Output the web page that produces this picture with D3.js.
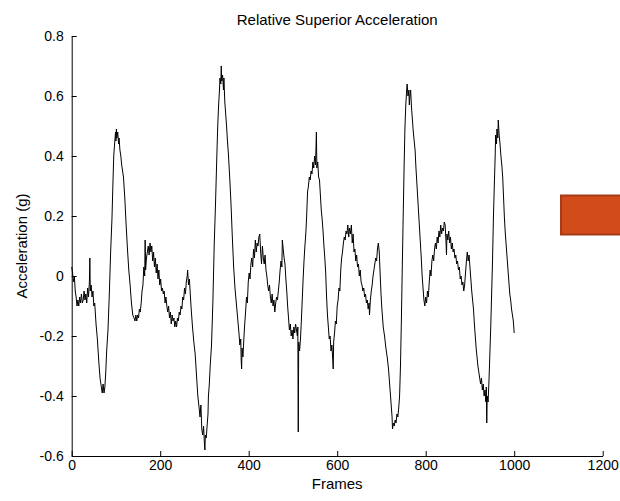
<!DOCTYPE html>
<html>
<head>
<meta charset="utf-8">
<script src="https://cdn.jsdelivr.net/npm/d3@7"></script>
<style>
  body { margin: 0; background: #fff; }
  text { font-family: "Liberation Sans", Arial, sans-serif; fill: #000; }
</style>
</head>
<body>
<div id="cont"></div>
<script>

    // frames
    var frames = [
      0,2,4,6,8,10,12,14,16,18,20,22,24,26,28,30,32,34,36,38,40,41,42,44,46,48,50,52,55,58,
      61,64,67,69,71,73,75,77,79,82,85,88,91,93,95,97,99,100,101,102,104,106,107,109,111,113,115,117,120,123,
      126,129,132,135,138,141,143,145,147,149,151,153,155,157,159,161,163,165,166,167,169,171,173,175,177,179,181,183,185,187,
      189,191,193,195,197,199,201,203,205,207,209,211,213,215,217,219,221,223,225,227,229,231,233,235,237,239,241,243,245,247,
      249,251,253,255,257,259,261,262,264,266,268,270,273,276,279,282,285,288,290,292,294,296,298,300,301,302,304,306,308,309,
      311,313,316,319,322,325,328,330,332,334,335,337,338,339,341,343,344,346,348,350,352,354,357,360,363,366,369,372,375,378,
      380,382,383,384,385,387,389,391,393,395,397,399,401,403,405,407,409,411,413,415,417,419,421,423,425,427,429,431,433,435,
      437,439,441,443,445,447,449,451,453,455,457,459,461,463,465,467,469,471,473,475,476,478,480,482,484,486,488,490,492,494,
      496,498,500,502,504,506,508,510,511,512,513,515,517,519,521,523,525,527,529,531,533,535,537,539,541,543,545,547,549,551,
      553,554,556,558,560,562,564,566,568,570,572,574,576,578,580,582,584,586,588,590,591,592,594,596,598,600,602,604,606,608,
      610,612,614,616,618,620,622,624,626,628,630,632,634,636,638,640,642,644,646,648,650,652,654,656,658,660,662,664,666,668,
      670,672,673,675,677,679,681,683,685,687,689,691,693,695,697,699,701,704,707,710,713,716,718,720,722,724,725,727,729,731,
      733,735,737,739,741,743,745,747,749,751,753,755,757,758,760,762,763,765,766,768,770,772,774,776,778,780,782,784,786,788,
      790,792,794,796,798,800,802,804,806,808,810,812,814,816,818,820,822,824,826,828,830,832,834,836,838,840,842,844,846,847,
      848,850,852,854,856,858,860,862,864,866,868,870,872,874,876,878,880,882,884,886,888,890,892,894,896,898,900,902,904,906,
      908,910,912,914,916,918,920,922,924,926,928,930,932,934,936,937,938,939,941,943,945,947,949,951,953,955,957,958,960,961,
      963,964,966,968,970,972,974,976,978,980,982,984,986,988,990,992,994,996,998,1000
    ];

    // acceleration (g), one per frame above
    var accel = [
      0.03,0.01,-0.02,0.00,-0.05,-0.07,-0.10,-0.08,-0.10,-0.07,-0.09,-0.06,-0.09,-0.08,-0.05,-0.08,-0.06,-0.09,-0.04,-0.07,-0.02,0.06,-0.05,-0.03,-0.07,-0.05,-0.10,-0.09,-0.16,-0.21,
      -0.28,-0.34,-0.37,-0.39,-0.36,-0.39,-0.37,-0.32,-0.25,-0.18,-0.06,0.08,0.19,0.30,0.40,0.44,0.48,0.45,0.49,0.46,0.48,0.44,0.46,0.42,0.40,0.37,0.35,0.33,0.26,0.17,
      0.09,0.02,-0.03,-0.09,-0.13,-0.14,-0.15,-0.13,-0.15,-0.13,-0.14,-0.11,-0.12,-0.09,-0.05,-0.03,0.03,0.00,0.12,0.02,0.06,0.08,0.10,0.07,0.11,0.08,0.10,0.05,0.08,0.03,
      0.06,0.01,0.04,-0.01,0.02,-0.03,-0.01,-0.05,-0.04,-0.06,-0.05,-0.09,-0.07,-0.10,-0.12,-0.10,-0.14,-0.12,-0.16,-0.13,-0.15,-0.14,-0.17,-0.15,-0.17,-0.14,-0.15,-0.12,-0.13,-0.10,
      -0.11,-0.07,-0.08,-0.04,-0.06,-0.02,0.00,0.02,-0.03,-0.01,-0.06,-0.11,-0.17,-0.22,-0.26,-0.33,-0.40,-0.44,-0.47,-0.43,-0.51,-0.53,-0.50,-0.56,-0.58,-0.53,-0.54,-0.50,-0.46,-0.40,
      -0.36,-0.30,-0.23,-0.09,0.10,0.24,0.40,0.50,0.57,0.62,0.66,0.64,0.70,0.65,0.67,0.62,0.66,0.58,0.54,0.50,0.45,0.41,0.33,0.24,0.13,0.03,-0.04,-0.09,-0.14,-0.19,
      -0.23,-0.21,-0.28,-0.31,-0.24,-0.27,-0.21,-0.16,-0.12,-0.07,-0.09,-0.02,0.01,-0.01,0.04,0.06,0.03,0.09,0.06,0.12,0.08,0.11,0.10,0.13,0.14,0.08,0.04,0.10,0.06,0.04,
      0.07,0.02,0.00,-0.03,-0.05,-0.03,-0.07,-0.09,-0.06,-0.10,-0.08,-0.12,-0.09,-0.07,-0.08,-0.05,-0.02,0.02,0.05,0.03,0.12,0.09,0.06,0.04,-0.01,-0.05,-0.10,-0.14,-0.18,-0.16,
      -0.20,-0.18,-0.21,-0.17,-0.19,-0.16,-0.18,-0.20,-0.17,-0.52,-0.22,-0.25,-0.21,-0.15,-0.08,-0.01,0.05,0.10,0.14,0.20,0.28,0.30,0.33,0.32,0.35,0.34,0.38,0.36,0.40,0.37,
      0.48,0.36,0.38,0.33,0.32,0.27,0.22,0.19,0.15,0.10,0.06,0.01,-0.07,-0.13,-0.17,-0.21,-0.20,-0.25,-0.23,-0.28,-0.31,-0.22,-0.19,-0.15,-0.16,-0.10,-0.08,-0.04,-0.05,0.02,
      0.06,0.08,0.11,0.13,0.12,0.15,0.14,0.17,0.13,0.16,0.14,0.17,0.11,0.14,0.08,0.09,0.05,0.07,0.03,0.04,0.00,0.02,-0.02,-0.03,-0.05,-0.04,-0.07,-0.06,-0.09,-0.08,
      -0.11,-0.09,-0.13,-0.08,-0.05,-0.03,0.00,0.02,0.04,0.06,0.05,0.09,0.11,0.08,0.01,-0.06,-0.11,-0.17,-0.20,-0.24,-0.27,-0.31,-0.35,-0.39,-0.43,-0.47,-0.51,-0.49,-0.50,-0.48,
      -0.49,-0.46,-0.47,-0.44,-0.40,-0.30,-0.15,0.02,0.19,0.35,0.49,0.57,0.62,0.64,0.60,0.62,0.57,0.61,0.62,0.56,0.52,0.48,0.45,0.42,0.36,0.31,0.26,0.21,0.16,0.11,
      0.06,0.00,-0.04,-0.08,-0.10,-0.07,-0.09,-0.05,-0.07,-0.02,0.02,0.00,0.05,0.07,0.05,0.09,0.11,0.09,0.13,0.11,0.15,0.13,0.17,0.14,0.16,0.15,0.18,0.17,0.11,0.07,
      0.14,0.12,0.15,0.11,0.13,0.09,0.11,0.08,0.09,0.06,0.07,0.04,0.05,0.02,0.03,-0.01,0.00,-0.03,-0.02,-0.05,-0.03,0.01,0.05,0.08,0.05,0.07,0.03,-0.01,-0.05,-0.08,
      -0.11,-0.16,-0.20,-0.24,-0.27,-0.30,-0.32,-0.34,-0.36,-0.34,-0.38,-0.36,-0.40,-0.38,-0.42,-0.37,-0.49,-0.40,-0.42,-0.35,-0.26,-0.17,-0.06,0.05,0.19,0.30,0.40,0.47,0.44,0.49,
      0.46,0.52,0.47,0.44,0.40,0.37,0.33,0.26,0.19,0.14,0.10,0.06,0.02,-0.02,-0.06,-0.08,-0.11,-0.13,-0.15,-0.19
    ];

    var xTicks = [0, 200, 400, 600, 800, 1000, 1200];
    var yTicks = [-0.6, -0.4, -0.2, 0, 0.2, 0.4, 0.6, 0.8];
    var yTickLabels = ["-0.6", "-0.4", "-0.2", "0", "0.2", "0.4", "0.6", "0.8"];

    // plot box (window.top is reserved, so no plain "top" here)
    var axLeft = 71.7, axRight = 602.7, axTop = 36, axBottom = 456;

    var canvas = d3.select("#cont")
      .append("svg")
      .attr("width", 620)
      .attr("height", 501)
      .style("display", "block")
      .style("background", "#fff");

    var x = d3.scaleLinear().domain([0, 1200]).range([axLeft, axRight]);
    var y = d3.scaleLinear().domain([-0.6, 0.8]).range([axBottom, axTop]);

    // axes, ticks pointing inward like matlab
    canvas.append("g")
      .attr("transform", "translate(0," + axBottom + ")")
      .call(d3.axisBottom(x).tickValues(xTicks).tickSizeInner(-5).tickSizeOuter(0).tickPadding(4)
        .tickFormat(d3.format("d")));

    canvas.append("g")
      .attr("transform", "translate(" + axLeft + ",0)")
      .call(d3.axisLeft(y).tickValues(yTicks).tickSizeInner(-5).tickSizeOuter(0).tickPadding(8)
        .tickFormat(function(d, i) { return yTickLabels[i]; }));

    canvas.selectAll(".domain, .tick line").attr("stroke", "#000").attr("stroke-width", 1);
    canvas.selectAll(".tick text").style("font-size", "14px").attr("fill", "#000");

    // the trace
    var line = d3.line()
      .x(function(d, i) { return x(frames[i]); })
      .y(function(d) { return y(d); });

    canvas.append("path")
      .datum(accel)
      .attr("d", line)
      .attr("fill", "none")
      .attr("stroke", "#000")
      .attr("stroke-width", 1);

    // labels
    canvas.append("text")
      .attr("x", (axLeft + axRight) / 2)
      .attr("y", 25)
      .attr("text-anchor", "middle")
      .style("font-size", "15px")
      .text("Relative Superior Acceleration");

    canvas.append("text")
      .attr("x", (axLeft + axRight) / 2)
      .attr("y", 489)
      .attr("text-anchor", "middle")
      .style("font-size", "15px")
      .text("Frames");

    canvas.append("text")
      .attr("transform", "translate(27," + (axTop + axBottom) / 2 + ") rotate(-90)")
      .attr("text-anchor", "middle")
      .style("font-size", "15px")
      .text("Acceleration (g)");

    // orange box on the right
    canvas.append("rect")
      .attr("x", 561)
      .attr("y", 195.5)
      .attr("width", 70)
      .attr("height", 39)
      .attr("fill", "#d24b1b")
      .attr("stroke", "#a63a17")
      .attr("stroke-width", 2);

</script>
</body>
</html>
